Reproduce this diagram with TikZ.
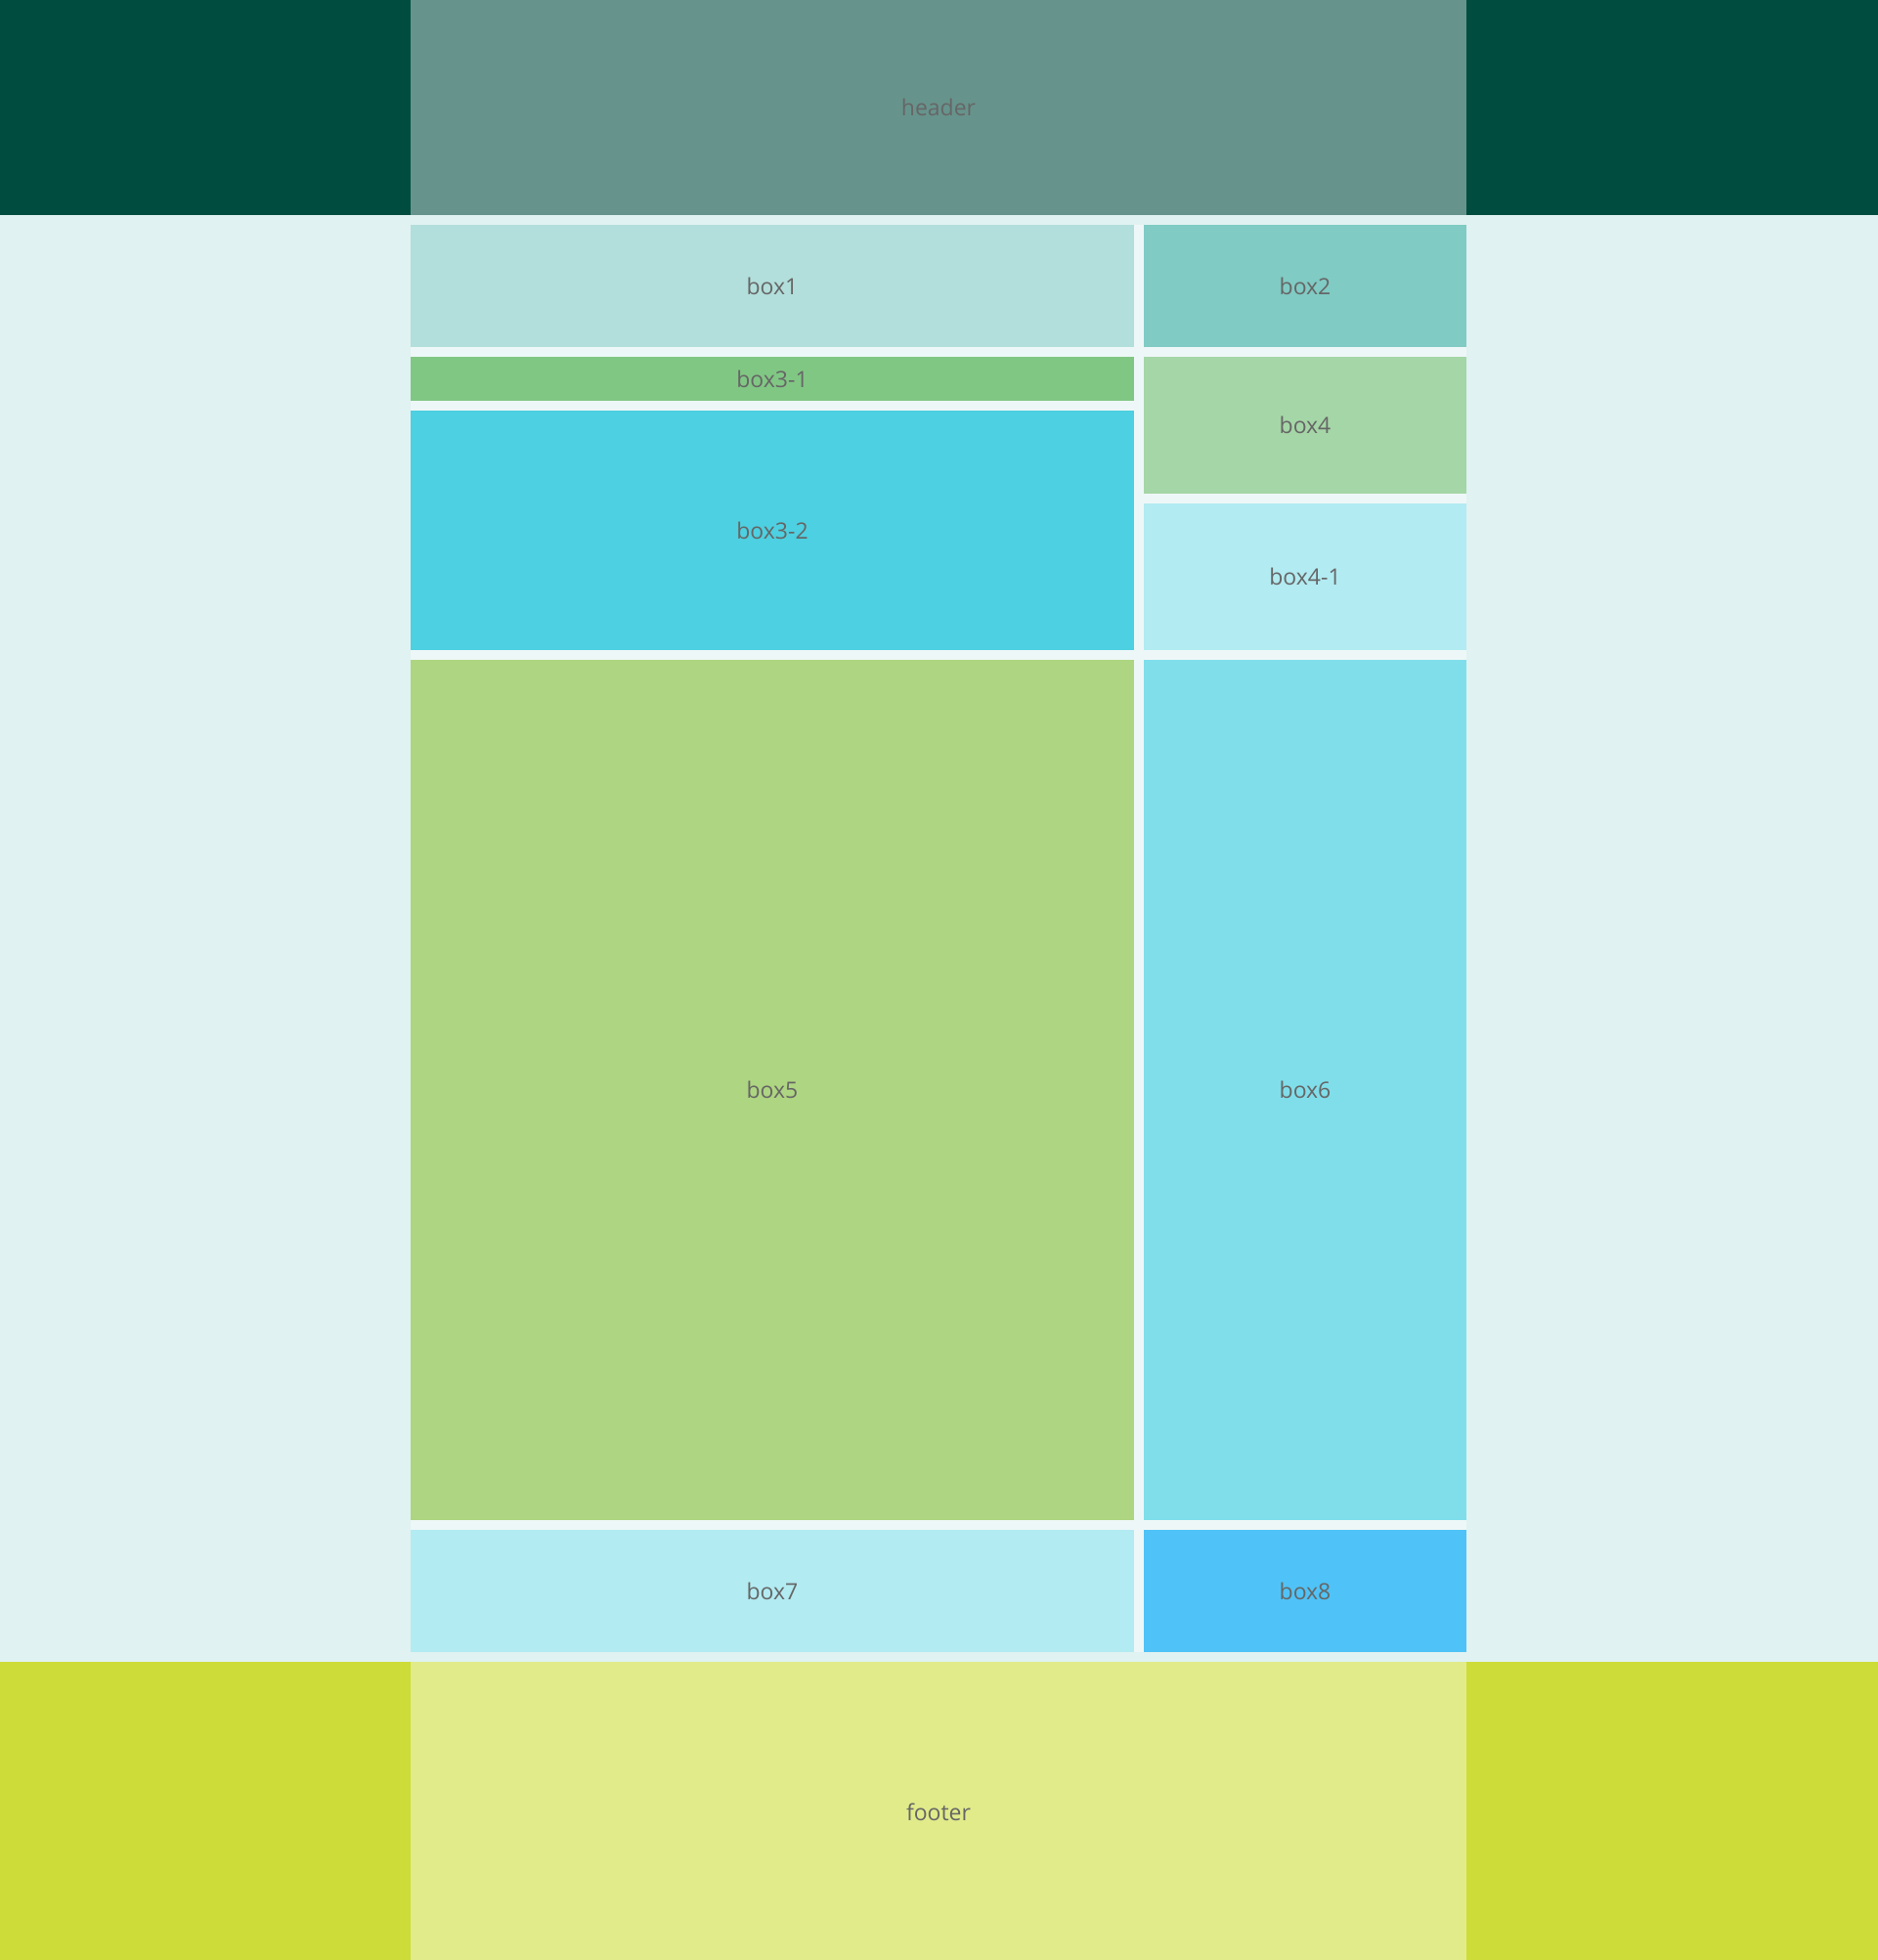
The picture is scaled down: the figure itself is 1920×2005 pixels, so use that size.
\documentclass[tikz,border=0pt]{standalone}
\usepackage{fontspec}
\setmainfont{Open Sans}
\usetikzlibrary{positioning}
\definecolor{HeadDark}{HTML}{004D40}
\definecolor{HeadMid}{HTML}{66948C}
\definecolor{PageBg}{HTML}{E0F2F1}
\definecolor{GapBg}{HTML}{EEF7F7}
\definecolor{FootSide}{HTML}{CDDC39}
\definecolor{FootMid}{HTML}{E1EB8A}
\definecolor{Label}{HTML}{666666}
\definecolor{TealA}{HTML}{B2DFDB}
\definecolor{TealB}{HTML}{80CBC4}
\definecolor{GreenA}{HTML}{81C784}
\definecolor{CyanA}{HTML}{4DD0E1}
\definecolor{GreenB}{HTML}{A5D6A7}
\definecolor{CyanB}{HTML}{B2EBF2}
\definecolor{Lime}{HTML}{AED581}
\definecolor{CyanC}{HTML}{80DEEA}
\definecolor{Sky}{HTML}{4FC3F7}

\begin{document}
\begin{tikzpicture}[x=1pt,y=-1pt,
    cell/.style={inner sep=0pt,outer sep=0pt,text=Label,font=\fontsize{23}{28}\selectfont},
    wide/.style={cell,minimum width=740pt},
    narrow/.style={cell,minimum width=330pt}]
    \useasboundingbox (0,0) rectangle (1920,2005);
    % page bands
    \fill[HeadDark] (-2,-2) rectangle (1922,220);
    \fill[PageBg] (-2,220) rectangle (1922,1700);
    \fill[FootSide] (-2,1700) rectangle (1922,2007);
    \fill[GapBg] (420,230) rectangle (1500,1690);
    \fill[HeadMid] (420,-2) rectangle (1500,0);
    \node[cell,fill=HeadMid,minimum width=1080pt,minimum height=220pt,anchor=north west] (header) at (420,0) {header};
    \node[cell,fill=FootMid,minimum width=1080pt,minimum height=307pt,anchor=north west] (footer) at (420,1700) {footer};
    % grid
    \node[wide,fill=TealA,minimum height=125pt,anchor=north west] (box1) at (420,230) {box1};
    \node[narrow,fill=TealB,minimum height=125pt,right=10pt of box1] (box2) {box2};
    \node[wide,fill=GreenA,minimum height=45pt,below=10pt of box1.south west,anchor=north west] (box31) {box3-1};
    \node[wide,fill=CyanA,minimum height=245pt,below=10pt of box31.south west,anchor=north west] (box32) {box3-2};
    \node[narrow,fill=GreenB,minimum height=140pt,below=10pt of box2.south west,anchor=north west] (box4) {box4};
    \node[narrow,fill=CyanB,minimum height=150pt,below=10pt of box4.south west,anchor=north west] (box41) {box4-1};
    \node[wide,fill=Lime,minimum height=880pt,below=10pt of box32.south west,anchor=north west] (box5) {box5};
    \node[narrow,fill=CyanC,minimum height=880pt,right=10pt of box5] (box6) {box6};
    \node[wide,fill=CyanB,minimum height=125pt,below=10pt of box5.south west,anchor=north west] (box7) {box7};
    \node[narrow,fill=Sky,minimum height=125pt,right=10pt of box7] (box8) {box8};
  \end{tikzpicture}
\end{document}
